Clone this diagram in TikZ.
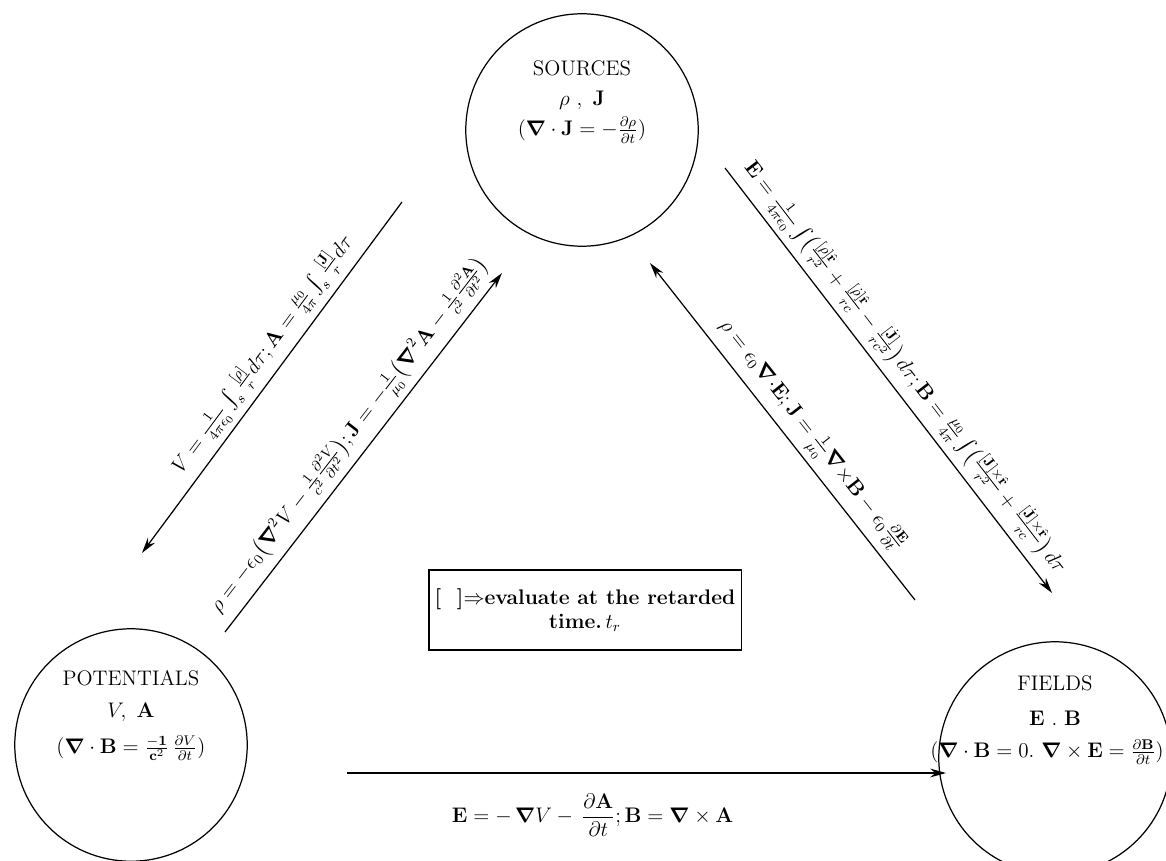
\documentclass[tikz,border=0pt]{standalone}
\usepackage{amsmath}
\usepackage{amssymb}
\usetikzlibrary{arrows.meta,calc}
\newcommand{\nab}{\boldsymbol{\nabla}}
\begin{document}
\begin{tikzpicture}[x=0.02cm,y=0.02cm,font=\large,>={Stealth[length=9pt,width=5pt]},
  ring/.style={draw,circle,line width=0.7pt,minimum size=4.65cm,inner sep=0pt},
  link/.style={->,line width=0.7pt},
  eqlbl/.style={sloped,above,inner sep=3pt},
  note/.style={draw,line width=0.9pt,minimum width=6.2cm,minimum height=1.6cm,align=center,font=\large\bfseries}]
  \useasboundingbox (0,0) rectangle (1166,860);
  \node[ring] (src) at (582,730) {};
  \node (srcname) at ($(src)+(0,62)$) {SOURCES};
  \node (srcvar) at ($(src)+(0,30)$) {$\rho\ ,\ \mathbf{J}$};
  \node (srclaw) at (src) {$(\nab\cdot\mathbf{J}=-\frac{\partial\rho}{\partial t})$};
  \node[ring] (pot) at (131,115) {};
  \node (potname) at ($(pot)+(0,67)$) {POTENTIALS};
  \node (potvar) at ($(pot)+(0,33)$) {$V,\ \mathbf{A}$};
  \node (potlaw) at ($(pot)+(0,-3)$) {$(\nab\cdot\mathbf{B}=\frac{\mathbf{-1}}{\mathbf{c}^2}\,\frac{\partial V}{\partial t})$};
  \node[ring] (fld) at (1055,102) {};
  \node (fldname) at ($(fld)+(0,75)$) {FIELDS};
  \node (fldvar) at ($(fld)+(0,40)$) {$\mathbf{E}\ .\ \mathbf{B}$};
  \node (fldlaw) at ($(fld)+(-8,6)$) {$(\nab\cdot\mathbf{B}=0.\ \nab\times\mathbf{E}=\frac{\partial\mathbf{B}}{\partial t})$};
  \coordinate (a1s) at (402,658);
  \coordinate (a1e) at (142,307);
  \coordinate (a2s) at (225,228);
  \coordinate (a2e) at (502,587);
  \coordinate (a3s) at (725,692);
  \coordinate (a3e) at (1052,267);
  \coordinate (a4s) at (915,260);
  \coordinate (a4e) at (650,597);
  \coordinate (a5s) at (347,87);
  \coordinate (a5e) at (946,87);
  \draw[link] (a1s) -- node[eqlbl,pos=0.47] (lblvpot)
    {$V=\frac{1}{4\pi\epsilon_0}\int_s\frac{[\rho]}{r}d\tau;\mathbf{A}=\frac{\mu_0}{4\pi}\int_s\frac{[\mathbf{J}]}{r}d\tau$} (a1e);
  \draw[link] (a2s) -- node[eqlbl,pos=0.51] (lblsrc)
    {$\rho=-\epsilon_0\bigl(\nab^2V-\frac{1}{c^2}\frac{\partial^2V}{\partial t^2}\bigr);\mathbf{J}=-\frac{1}{\mu_0}\bigl(\nab^2\mathbf{A}-\frac{1}{c^2}\frac{\partial^2\mathbf{A}}{\partial t^2}\bigr)$} (a2e);
  \draw[link] (a3s) -- node[eqlbl,pos=0.5] (lbljef)
    {$\mathbf{E}=\frac{1}{4\pi\epsilon_0}\int\bigl(\frac{[\rho]\hat{\mathbf{r}}}{r^2}+\frac{[\dot\rho]\hat{\mathbf{r}}}{rc}-\frac{[\dot{\mathbf{J}}]}{rc^2}\bigr)\,d\tau;\mathbf{B}=\frac{\mu_0}{4\pi}\int\bigl(\frac{[\mathbf{J}]\times\hat{\mathbf{r}}}{r^2}+\frac{[\dot{\mathbf{J}}]\times\hat{\mathbf{r}}}{rc}\bigr)\,d\tau$} (a3e);
  \draw[link] (a4s) -- node[eqlbl,pos=0.45] (lblmax)
    {$\rho=\epsilon_0\nab{\cdot}\mathbf{E};\mathbf{J}=\frac{1}{\mu_0}\nab{\times}\mathbf{B}-\epsilon_0\frac{\partial\mathbf{E}}{\partial t}$} (a4e);
  \draw[link] (a5s) -- node[below=8pt,pos=0.41] (lblfld)
    {$\mathbf{E}=-\,\nab V-\,\dfrac{\partial\mathbf{A}}{\partial t};\mathbf{B}=\nab\times\mathbf{A}$} (a5e);
  \node[note] (retard) at (585,250) {{[\ \ ]}$\Rightarrow$evaluate at the retarded\\time.\,$t_r$};
\end{tikzpicture}
\end{document}
